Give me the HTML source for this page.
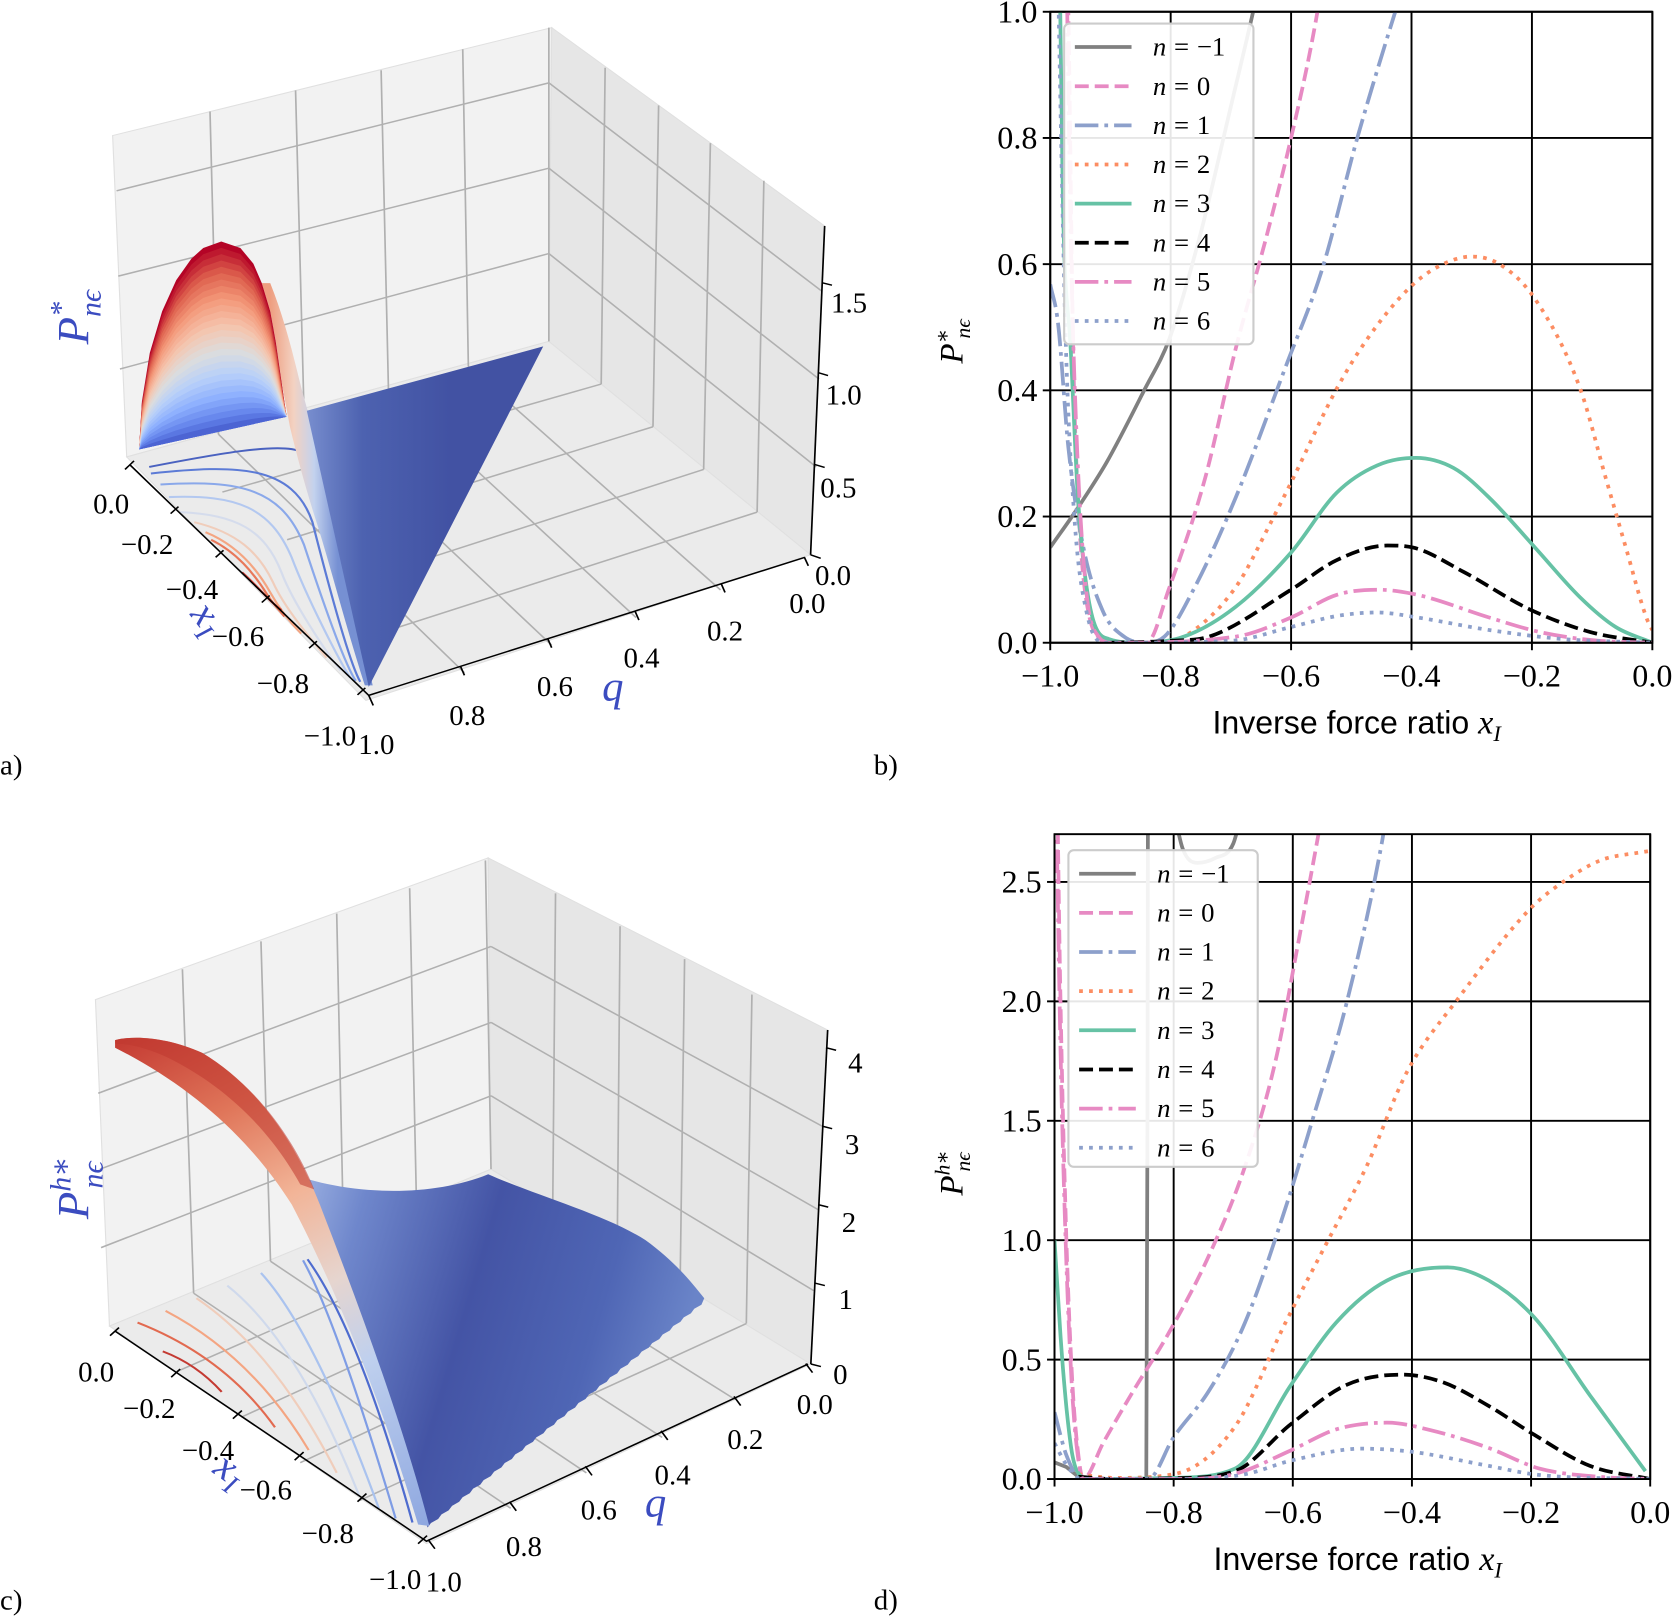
<!DOCTYPE html>
<html><head><meta charset="utf-8">
<style>
html,body{margin:0;padding:0;background:#fff;}
svg{display:block;}
text{font-family:"Liberation Serif","DejaVu Serif",serif;fill:#000;}
.tk{font-size:27px;}
</style></head>
<body>
<svg id="fig" width="1677" height="1617" viewBox="0 0 1568 1512" xmlns="http://www.w3.org/2000/svg">
<defs>
<clipPath id="clipB"><rect x="982" y="11" width="563" height="590"/></clipPath>
<clipPath id="clipD"><rect x="986" y="780" width="557" height="603"/></clipPath>
<linearGradient id="triA" x1="540" y1="900" x2="800" y2="900" gradientUnits="userSpaceOnUse">
<stop offset="0" stop-color="#7a90d0"/><stop offset="0.4" stop-color="#4d62b0"/><stop offset="1" stop-color="#4252a3"/></linearGradient>
<linearGradient id="sweepA" x1="480" y1="900" x2="600" y2="900" gradientUnits="userSpaceOnUse">
<stop offset="0" stop-color="#ee9e80"/><stop offset="0.35" stop-color="#f3d2c2"/><stop offset="0.65" stop-color="#c3d2ee"/><stop offset="1" stop-color="#7690d3"/></linearGradient>
<linearGradient id="ridgeC" x1="205" y1="435" x2="760" y2="1390" gradientUnits="userSpaceOnUse">
<stop offset="0" stop-color="#c43a32"/><stop offset="0.2" stop-color="#e0765a"/><stop offset="0.38" stop-color="#f2b497"/><stop offset="0.55" stop-color="#e6d5cf"/><stop offset="0.7" stop-color="#bfd0ee"/><stop offset="1" stop-color="#8fa8e0"/></linearGradient>
<linearGradient id="blueC" x1="500" y1="700" x2="1250" y2="900" gradientUnits="userSpaceOnUse">
<stop offset="0" stop-color="#a9bde8"/><stop offset="0.2" stop-color="#6f87cc"/><stop offset="0.5" stop-color="#4454a5"/><stop offset="0.8" stop-color="#4f66b5"/><stop offset="1" stop-color="#6a84c8"/></linearGradient>
</defs>

<!-- ========== PANEL A (3D) ========== -->
<g id="panelA">
<g transform="scale(0.52632,0.46948)">
<polygon points="200,270 980,55 975,680 225,910" fill="#f2f2f2" stroke="#e0e0e0" stroke-width="2"/>
<polygon points="980,55 1465,450 1440,1105 975,680" fill="#e6e6e6" stroke="#e0e0e0" stroke-width="2"/>
<polygon points="225,910 975,680 1440,1105 650,1395" fill="#ebebeb" stroke="#e0e0e0" stroke-width="2"/>
<g stroke="#b0b0b0" stroke-width="3" fill="none">
<path d="M373,222 L388,865 M525,180 L540,820 M677,140 L690,775 M822,98 L832,730 M975,55 L975,680"/>
<path d="M213,735 L975,505 M210,550 L975,335 M207,380 L975,165"/>
<path d="M975,505 L1450,930 M975,335 L1455,755 M975,165 L1460,580"/>
<path d="M1075,135 L1068,765 M1170,210 L1160,850 M1262,285 L1250,935 M1357,360 L1345,1020"/>
<path d="M388,865 L825,1340 M540,820 L980,1285 M690,775 L1130,1230 M832,730 L1280,1175"/>
<path d="M1068,765 L395,980 M1160,850 L510,1075 M1250,935 L600,1170 M1345,1020 L650,1270"/>
</g>
<g fill="none" stroke-width="4">
<path d="M265,930 C380,905 500,880 535,900" stroke="#4a62c0"/>
<path d="M268,943 C420,925 520,925 555,1040 C580,1150 620,1320 640,1358" stroke="#5c7bd6"/>
<path d="M285,965 C430,955 500,975 540,1085 C565,1170 610,1320 632,1356" stroke="#8aa8ea"/>
<path d="M300,990 C420,985 480,1010 518,1110 C545,1190 600,1310 622,1350" stroke="#b3c8f0"/>
<path d="M320,1020 C420,1025 470,1055 500,1140 C520,1200 580,1300 605,1335" stroke="#d5dcec"/>
<path d="M345,1040 C420,1060 460,1100 485,1160 C505,1210 550,1270 580,1310" stroke="#f0cdbb"/>
<path d="M365,1060 C420,1085 455,1130 480,1180 C500,1220 520,1245 535,1262" stroke="#f4a582"/>
<path d="M375,1075 C420,1100 450,1140 475,1185 C490,1210 500,1220 505,1228" stroke="#e8785a"/>
<path d="M430,1140 C460,1170 480,1200 500,1215" stroke="#cf3f35"/>
</g>
<path d="M465,564 L480,620 L490,682 L500,760 L515,850 C530,920 545,980 565,1050 C590,1140 615,1250 648,1365 L662,1365 C640,1250 615,1120 590,1000 C570,900 545,820 528,740 C515,680 500,620 480,564 Z" fill="url(#sweepA)"/>
<g id="fanA"></g>
<polygon points="545,818 965,690 655,1368" fill="url(#triA)"/>
<g stroke="#000" stroke-width="3" fill="none">
<path d="M230,925 L655,1385 L1430,1110"/>
<path d="M1465,450 L1440,1105"/>
<path d="M222,935 L238,918 M303,1023 L317,1009 M383,1110 L397,1096 M465,1200 L479,1186 M549,1291 L563,1277 M635,1384 L649,1370"/>
<path d="M663,1405 L655,1385 M825,1345 L818,1327 M980,1290 L973,1272 M1135,1235 L1128,1217 M1288,1180 L1281,1162 M1436,1127 L1429,1110"/>
<path d="M1440,1105 L1458,1112 M1447,925 L1465,931 M1453,742 L1471,748 M1460,563 L1478,568"/>
</g>
</g>
<g class="tk">
<text x="87" y="480">0.0</text><text x="113" y="518">−0.2</text><text x="155" y="560">−0.4</text><text x="198" y="604">−0.6</text><text x="240" y="648">−0.8</text><text x="284" y="697">−1.0</text>
</g>
<g class="tk">
<text x="335" y="705">1.0</text><text x="420" y="678">0.8</text><text x="502" y="651">0.6</text><text x="583" y="624">0.4</text><text x="661" y="599">0.2</text><text x="738" y="573">0.0</text>
</g>
<g class="tk">
<text x="762" y="547">0.0</text><text x="767" y="465">0.5</text><text x="772" y="378">1.0</text><text x="777" y="292">1.5</text>
</g>
<text x="172" y="585" font-size="38" font-style="italic" style="fill:#3b4cc0" transform="rotate(52 185 585)">x<tspan font-size="26" dy="8">I</tspan></text>
<text x="563" y="655" font-size="40" font-style="italic" style="fill:#3b4cc0">q</text>
<text transform="translate(82,322) rotate(-90)" font-size="42" font-style="italic" style="fill:#3b4cc0">P<tspan font-size="28" dy="-16">*</tspan><tspan font-size="28" dx="-14" dy="28">nϵ</tspan></text>
<text x="0" y="724" font-size="27">a)</text>
</g>

<!-- ========== PANEL C (3D) ========== -->
<g id="panelC">
<g transform="translate(0,766.7) scale(0.52466,0.47326)">
<polygon points="170,355 870,75 875,690 195,1000" fill="#f2f2f2" stroke="#e0e0e0" stroke-width="2"/>
<polygon points="870,75 1475,415 1445,1075 875,690" fill="#e6e6e6" stroke="#e0e0e0" stroke-width="2"/>
<polygon points="195,1000 875,690 1445,1075 760,1430" fill="#ebebeb" stroke="#e0e0e0" stroke-width="2"/>
<g stroke="#b0b0b0" stroke-width="3" fill="none">
<path d="M325,295 L345,935 M465,240 L482,872 M600,185 L612,812 M730,135 L742,750 M865,80 L875,690"/>
<path d="M180,845 L875,545 M178,690 L875,400 M175,540 L875,250"/>
<path d="M875,545 L1450,930 M875,400 L1458,770 M875,250 L1465,605"/>
<path d="M990,145 L985,765 M1105,210 L1100,840 M1220,275 L1212,920 M1340,345 L1330,995"/>
<path d="M345,935 L910,1360 M482,872 L1045,1290 M612,812 L1180,1220 M742,750 L1310,1145"/>
<path d="M985,765 L315,1090 M1100,840 L430,1180 M1212,920 L535,1270 M1330,995 L640,1345"/>
</g>
<g fill="none" stroke-width="4">
<path d="M245,993 Q400,1060 490,1200" stroke="#e26a50"/>
<path d="M290,1050 Q350,1075 395,1130" stroke="#c43a32"/>
<path d="M295,970 Q450,1060 550,1245" stroke="#f4a582"/>
<path d="M350,945 Q490,1050 600,1290" stroke="#f0cdbb"/>
<path d="M405,920 Q530,1030 640,1335" stroke="#cfd9ec"/>
<path d="M465,895 Q560,1010 675,1360" stroke="#aac3ef"/>
<path d="M540,870 Q600,990 705,1380" stroke="#7f9de5"/>
<path d="M548,868 Q640,1010 735,1388" stroke="#4e6ccf"/>
</g>
<path id="blueSurfC" d="" fill="url(#blueC)"/>
<path d="M205,435 C240,425 300,430 360,460 C450,520 520,620 570,760 C640,960 720,1200 765,1395 L745,1392 C680,1150 600,930 520,760 C440,620 330,520 205,450 Z" fill="url(#ridgeC)"/>
<path d="M205,435 C240,425 300,430 360,460 C450,520 520,620 560,730 L535,720 C480,610 400,525 300,470 C260,450 230,442 205,442 Z" fill="#c0392f" opacity="0.55"/>
<g stroke="#000" stroke-width="3" fill="none">
<path d="M205,1010 L760,1425 L1440,1075"/>
<path d="M1475,415 L1445,1075"/>
<path d="M196,1019 L212,1003 M305,1101 L321,1085 M415,1183 L431,1167 M525,1265 L541,1249 M637,1347 L653,1331 M745,1430 L761,1414"/>
<path d="M775,1440 L763,1422 M920,1365 L908,1347 M1055,1295 L1043,1277 M1190,1225 L1178,1207 M1320,1157 L1308,1139 M1448,1092 L1436,1074"/>
<path d="M1445,1075 L1463,1080 M1452,915 L1470,920 M1458,760 L1476,765 M1465,605 L1483,610 M1472,450 L1490,455"/>
</g>
</g>
<g class="tk">
<text x="73" y="1292">0.0</text><text x="115" y="1326">−0.2</text><text x="170" y="1365">−0.4</text><text x="224" y="1402">−0.6</text><text x="282" y="1443">−0.8</text><text x="345" y="1486">−1.0</text>
</g>
<g class="tk">
<text x="398" y="1488">1.0</text><text x="473" y="1455">0.8</text><text x="543" y="1421">0.6</text><text x="612" y="1388">0.4</text><text x="680" y="1355">0.2</text><text x="745" y="1322">0.0</text>
</g>
<g class="tk">
<text x="779" y="1294">0</text><text x="784" y="1224">1</text><text x="787" y="1152">2</text><text x="790" y="1079">3</text><text x="793" y="1003">4</text>
</g>
<text x="195" y="1385" font-size="38" font-style="italic" style="fill:#3b4cc0" transform="rotate(35 210 1385)">x<tspan font-size="26" dy="8">I</tspan></text>
<text x="603" y="1418" font-size="40" font-style="italic" style="fill:#3b4cc0">q</text>
<text transform="translate(82,1140) rotate(-90)" font-size="42" font-style="italic" style="fill:#3b4cc0">P<tspan font-size="28" dy="-16">h∗</tspan><tspan font-size="28" dx="-30" dy="30">nϵ</tspan></text>
<text x="0" y="1505" font-size="27">c)</text>
</g>

<g id="panelB"></g>
<g id="panelD"></g>
<text x="817" y="724" font-size="27">b)</text>
<text x="817" y="1505" font-size="27">d)</text>
</svg>

<script>
// ---------- Panel b data ----------
const bXTicks = [-1.0, -0.8, -0.6, -0.4, -0.2, 0.0];
const bXTickLabels = ["−1.0", "−0.8", "−0.6", "−0.4", "−0.2", "0.0"];
const bYTicks = [0.0, 0.2, 0.4, 0.6, 0.8, 1.0];
const bYTickLabels = ["0.0", "0.2", "0.4", "0.6", "0.8", "1.0"];
const bNm1x = [-1, -0.954, -0.907, -0.844, -0.802, -0.75, -0.7, -0.663, -0.64];
const bNm1y = [0.151, 0.214, 0.285, 0.40, 0.482, 0.65, 0.85, 1.0, 1.1];
const bN0x = [-0.98, -0.97, -0.962, -0.954, -0.937, -0.91, -0.88, -0.84, -0.802, -0.743, -0.692, -0.642, -0.6, -0.558, -0.54];
const bN0y = [1.3, 1.0, 0.466, 0.23, 0.05, 0.005, 0, 0, 0.088, 0.26, 0.466, 0.64, 0.8, 0.99, 1.1];
const bN1x = [-1, -0.987, -0.97, -0.945, -0.912, -0.878, -0.844, -0.81, -0.76, -0.692, -0.608, -0.549, -0.49, -0.427, -0.41];
const bN1y = [0.568, 0.506, 0.31, 0.151, 0.049, 0.01, 0, 0.01, 0.088, 0.23, 0.44, 0.59, 0.8, 1.0, 1.05];
const bN2x = [-0.9, -0.82, -0.777, -0.692, -0.634, -0.6, -0.524, -0.473, -0.406, -0.356, -0.3, -0.254, -0.195, -0.12, -0.077, -0.044, -0.01, 0];
const bN2y = [0, 0, 0.01, 0.088, 0.19, 0.254, 0.403, 0.482, 0.56, 0.596, 0.612, 0.6, 0.545, 0.403, 0.26, 0.151, 0.04, 0.02];
const bN3x = [-0.986, -0.979, -0.966, -0.954, -0.937, -0.903, -0.85, -0.777, -0.692, -0.6, -0.524, -0.457, -0.393, -0.33, -0.271, -0.195, -0.12, -0.061, 0];
const bN3y = [1.2, 0.7, 0.466, 0.23, 0.072, 0.006, 0, 0.01, 0.057, 0.143, 0.238, 0.281, 0.293, 0.277, 0.23, 0.151, 0.072, 0.025, 0];
const bN4x = [-0.9, -0.8, -0.735, -0.6, -0.524, -0.44, -0.398, -0.313, -0.204, -0.103, 0];
const bN4y = [0, 0.003, 0.01, 0.084, 0.131, 0.154, 0.151, 0.112, 0.053, 0.017, 0];
const bN5x = [-0.975, -0.965, -0.955, -0.94, -0.92, -0.9, -0.69, -0.6, -0.524, -0.457, -0.39, -0.271, -0.187, -0.1, 0];
const bN5y = [1.2, 0.6, 0.3, 0.08, 0.01, 0, 0.01, 0.04, 0.076, 0.084, 0.076, 0.04, 0.017, 0.004, 0];
const bN6x = [-0.99, -0.975, -0.96, -0.94, -0.91, -0.7, -0.6, -0.52, -0.457, -0.39, -0.27, -0.15, 0];
const bN6y = [1.2, 0.5, 0.2, 0.05, 0, 0.003, 0.025, 0.043, 0.048, 0.04, 0.02, 0.006, 0];

// ---------- Panel d data ----------
const dXTicks = [-1.0, -0.8, -0.6, -0.4, -0.2, 0.0];
const dXTickLabels = ["−1.0", "−0.8", "−0.6", "−0.4", "−0.2", "0.0"];
const dYTicks = [0.0, 0.5, 1.0, 1.5, 2.0, 2.5];
const dYTickLabels = ["0.0", "0.5", "1.0", "1.5", "2.0", "2.5"];
const dNm1x = [-1, -0.98, -0.96, -0.95, -0.846, -0.844, -0.843];
const dNm1y = [0.07, 0.05, 0.01, 0, 0, 1.5, 3.0];
const dNm1bx = [-0.80, -0.785, -0.76, -0.73, -0.70, -0.685];
const dNm1by = [2.8, 2.64, 2.58, 2.6, 2.66, 2.8];
const dN0x = [-0.995, -0.99, -0.98, -0.97, -0.96, -0.952, -0.918, -0.867, -0.808, -0.74, -0.68, -0.629, -0.595, -0.557, -0.55];
const dN0y = [2.8, 2.0, 1.0, 0.4, 0.1, 0, 0.153, 0.372, 0.612, 0.94, 1.31, 1.75, 2.19, 2.7, 2.8];
const dN1x = [-1, -0.98, -0.955, -0.9, -0.843, -0.8, -0.74, -0.68, -0.612, -0.569, -0.51, -0.45, -0.445];
const dN1y = [0.28, 0.1, 0, 0, 0, 0.175, 0.372, 0.656, 1.137, 1.487, 1.99, 2.67, 2.75];
const dN2x = [-0.96, -0.9, -0.8, -0.697, -0.612, -0.544, -0.476, -0.408, -0.323, -0.203, -0.152, -0.084, -0.016, 0];
const dN2y = [0.02, 0.005, 0.02, 0.22, 0.656, 0.984, 1.31, 1.706, 2.01, 2.384, 2.49, 2.59, 2.624, 2.63];
const dN3x = [-1, -0.99, -0.98, -0.97, -0.955, -0.94, -0.8, -0.697, -0.603, -0.527, -0.442, -0.34, -0.271, -0.195, -0.101, -0.008];
const dN3y = [1.0, 0.6, 0.3, 0.1, 0.01, 0, 0.005, 0.044, 0.394, 0.656, 0.831, 0.886, 0.831, 0.678, 0.35, 0.033];
const dN4x = [-0.96, -0.9, -0.8, -0.697, -0.603, -0.51, -0.416, -0.348, -0.271, -0.195, -0.101, 0];
const dN4y = [0.01, 0, 0.003, 0.033, 0.23, 0.394, 0.437, 0.405, 0.306, 0.186, 0.055, 0];
const dN5x = [-0.997, -0.99, -0.98, -0.97, -0.96, -0.952, -0.8, -0.7, -0.603, -0.527, -0.442, -0.357, -0.271, -0.186, -0.084, 0];
const dN5y = [2.8, 1.8, 0.9, 0.35, 0.08, 0, 0, 0.02, 0.12, 0.208, 0.236, 0.197, 0.13, 0.044, 0.009, 0];
const dN6x = [-1, -0.98, -0.955, -0.8, -0.68, -0.603, -0.484, -0.4, -0.271, -0.186, 0];
const dN6y = [0.15, 0.06, 0, 0, 0.02, 0.077, 0.127, 0.114, 0.055, 0.017, 0];

const legendLabels = ["n = −1", "n = 0", "n = 1", "n = 2", "n = 3", "n = 4", "n = 5", "n = 6"];

const NS = "http://www.w3.org/2000/svg";
function mk(tag, attrs, parent) {
  const e = document.createElementNS(NS, tag);
  for (const k in attrs) e.setAttribute(k, attrs[k]);
  if (parent) parent.appendChild(e);
  return e;
}
const STY = {
  gray:  {c:"#808080", d:""},
  pdash: {c:"#e78ac3", d:"13,5.6"},
  bdd:   {c:"#8da0cb", d:"22,5.6,3.5,5.6"},
  odot:  {c:"#fc8d62", d:"3.5,5.8"},
  green: {c:"#66c2a5", d:""},
  kdash: {c:"#000000", d:"13,5.6"},
  pdd:   {c:"#e78ac3", d:"22,5.6,3.5,5.6"},
  bdot:  {c:"#8da0cb", d:"3.5,5.8"}
};
const legendStyles = [STY.gray, STY.pdash, STY.bdd, STY.odot, STY.green, STY.kdash, STY.pdd, STY.bdot];

function smoothPath(P) {
  const n = P.length;
  if (n < 3) return "M" + P.map(p => p[0].toFixed(1) + "," + p[1].toFixed(1)).join(" L");
  const dx = [], m = [], s = [];
  for (let i = 0; i < n - 1; i++) { dx[i] = P[i+1][0] - P[i][0]; s[i] = dx[i] > 1e-6 ? (P[i+1][1] - P[i][1]) / dx[i] : 0; }
  m[0] = s[0]; m[n-1] = s[n-2];
  for (let i = 1; i < n - 1; i++) m[i] = (s[i-1] * s[i] <= 0) ? 0 : (s[i-1] + s[i]) / 2;
  for (let i = 0; i < n - 1; i++) {
    if (s[i] === 0) { m[i] = 0; m[i+1] = 0; continue; }
    const a = m[i] / s[i], b = m[i+1] / s[i], h = a*a + b*b;
    if (h > 9) { const t = 3 / Math.sqrt(h); m[i] = t*a*s[i]; m[i+1] = t*b*s[i]; }
  }
  let d = "M" + P[0][0].toFixed(1) + "," + P[0][1].toFixed(1);
  for (let i = 0; i < n - 1; i++) {
    const h = dx[i] / 3;
    d += " C" + (P[i][0]+h).toFixed(1) + "," + (P[i][1]+m[i]*h).toFixed(1) + " " +
         (P[i+1][0]-h).toFixed(1) + "," + (P[i+1][1]-m[i+1]*h).toFixed(1) + " " +
         P[i+1][0].toFixed(1) + "," + P[i+1][1].toFixed(1);
  }
  return d;
}

function drawPanel(cfg) {
  const g = document.getElementById(cfg.id);
  const X = v => cfg.x0 + (v - cfg.xmin) / (cfg.xmax - cfg.xmin) * (cfg.x1 - cfg.x0);
  const Y = v => cfg.yb - (v - cfg.ymin) / (cfg.ymax - cfg.ymin) * (cfg.yb - cfg.yt);
  const grid = mk("g", {stroke:"#000", "stroke-width":"1.8"}, g);
  
  
  cfg.xt.forEach(v => mk("line", {x1:X(v), x2:X(v), y1:cfg.yt, y2:cfg.yb}, grid));
  cfg.yt_.forEach(v => mk("line", {x1:cfg.x0, x2:cfg.x1, y1:Y(v), y2:Y(v)}, grid));
  const sg = mk("g", {"clip-path":"url(#"+cfg.clip+")", fill:"none", "stroke-width":"3.5"}, g);
  
  
  cfg.series.forEach(s => {
    const P = s.x.map((v,i) => [X(v), Y(s.y[i])]);
    const d = s.raw ? "M" + P.map(p => p[0].toFixed(1) + "," + p[1].toFixed(1)).join(" L") : smoothPath(P);
    const pl = mk("path", {d:d, stroke:s.st.c}, sg);
    if (s.st.d) pl.setAttribute("stroke-dasharray", s.st.d);
    
    
  });
  const fr = mk("rect", {x:cfg.x0, y:cfg.yt, width:cfg.x1-cfg.x0, height:cfg.yb-cfg.yt, fill:"none", stroke:"#000", "stroke-width":"1.8"}, g);
  
  
  cfg.xt.forEach((v,i) => {
    mk("line", {x1:X(v), x2:X(v), y1:cfg.yb, y2:cfg.yb+7, stroke:"#000", "stroke-width":"1.8"}, g);
    const t = mk("text", {x:X(v), y:cfg.yb+41, "text-anchor":"middle", "font-size":"30"}, g);
    t.textContent = cfg.xl[i];
    
    
  });
  cfg.yt_.forEach((v,i) => {
    mk("line", {x1:cfg.x0-7, x2:cfg.x0, y1:Y(v), y2:Y(v), stroke:"#000", "stroke-width":"1.8"}, g);
    const t = mk("text", {x:cfg.x0-12, y:Y(v)+10, "text-anchor":"end", "font-size":"30"}, g);
    t.textContent = cfg.yl[i];
    
    
  });
  const xt = mk("text", {x:(cfg.x0+cfg.x1)/2+5, y:cfg.yb+85, "text-anchor":"middle", "font-size":"30"}, g);
  
  
  xt.innerHTML = '<tspan font-family="Liberation Sans, DejaVu Sans, sans-serif">Inverse force ratio </tspan><tspan font-style="italic" font-size="32">x</tspan><tspan font-style="italic" font-size="21" dy="7">I</tspan>';
  const yt = mk("text", {transform:"translate("+cfg.ylx+","+cfg.yly+") rotate(-90)", "font-size":"31", "font-style":"italic"}, g);
  
  
  yt.innerHTML = cfg.ylab;
  const lg = mk("g", {}, g);
  
  
  const lb = mk("rect", {x:cfg.lx, y:cfg.ly, width:177, height:cfg.lh, rx:5, fill:"#fff", "fill-opacity":"0.9", stroke:"#ccc", "stroke-width":"2"}, lg);
  
  
  legendLabels.forEach((lab,i) => {
    const yy = cfg.ly + 22 + i*cfg.lstep;
    const ln = mk("line", {x1:cfg.lx+10, x2:cfg.lx+63, y1:yy, y2:yy, stroke:legendStyles[i].c, "stroke-width":"3.5"}, lg);
    if (legendStyles[i].d) ln.setAttribute("stroke-dasharray", legendStyles[i].d);
    
    
    const t = mk("text", {x:cfg.lx+83, y:yy+8, "font-size":"25", "word-spacing":"1"}, lg);
    t.innerHTML = '<tspan font-style="italic">n</tspan>' + lab.slice(1);
    
    
  });
}

drawPanel({id:"panelB", clip:"clipB", x0:982, x1:1545, yt:11, yb:601, xmin:-1, xmax:0, ymin:0, ymax:1,
  xt:bXTicks, xl:bXTickLabels, yt_:bYTicks, yl:bYTickLabels,
  ylx:900, yly:340, ylab:'P<tspan font-size="20" dy="-12">∗</tspan><tspan font-size="20" dx="-9" dy="19">nϵ</tspan>',
  lx:995, ly:22, lh:300, lstep:36.6,
  series:[
    {x:bNm1x, y:bNm1y, st:STY.gray, name:"line-n-minus1"},
    {x:bN0x, y:bN0y, st:STY.pdash, name:"line-n0"},
    {x:bN1x, y:bN1y, st:STY.bdd, name:"line-n1"},
    {x:bN2x, y:bN2y, st:STY.odot, name:"line-n2"},
    {x:bN3x, y:bN3y, st:STY.green, name:"line-n3"},
    {x:bN4x, y:bN4y, st:STY.kdash, name:"line-n4"},
    {x:bN5x, y:bN5y, st:STY.pdd, name:"line-n5"},
    {x:bN6x, y:bN6y, st:STY.bdot, name:"line-n6"}
  ]});

drawPanel({id:"panelD", clip:"clipD", x0:986, x1:1543, yt:780, yb:1383, xmin:-1, xmax:0, ymin:0, ymax:2.7,
  xt:dXTicks, xl:dXTickLabels, yt_:dYTicks, yl:dYTickLabels,
  ylx:900, yly:1118, ylab:'P<tspan font-size="20" dy="-12">h∗</tspan><tspan font-size="20" dx="-20" dy="19">nϵ</tspan>',
  lx:999, ly:795, lh:296, lstep:36.6,
  series:[
    {x:dNm1x, y:dNm1y, st:STY.gray, name:"line-n-minus1", raw:true},
    {x:dNm1bx, y:dNm1by, st:STY.gray, name:"line-n-minus1-branch"},
    {x:dN0x, y:dN0y, st:STY.pdash, name:"line-n0"},
    {x:dN1x, y:dN1y, st:STY.bdd, name:"line-n1"},
    {x:dN2x, y:dN2y, st:STY.odot, name:"line-n2"},
    {x:dN3x, y:dN3y, st:STY.green, name:"line-n3"},
    {x:dN4x, y:dN4y, st:STY.kdash, name:"line-n4"},
    {x:dN5x, y:dN5y, st:STY.pdd, name:"line-n5"},
    {x:dN6x, y:dN6y, st:STY.bdot, name:"line-n6"}
  ]});

// ---------- Panel a fan (nested arches, coolwarm) ----------
function coolwarm(t) {
  const stops = [[59,76,192],[98,130,234],[141,176,254],[184,208,249],[221,221,221],[245,196,173],[244,154,123],[222,96,77],[180,4,38]];
  const p = Math.max(0, Math.min(1, t)) * (stops.length - 1);
  const i = Math.min(stops.length - 2, Math.floor(p)), f = p - i;
  const c = stops[i].map((v,k) => Math.round(v + (stops[i+1][k] - v) * f));
  return "rgb(" + c.join(",") + ")";
}
const fanOuter = [[247,895],[252,800],[266,703],[288,620],[313,558],[340,515],[361,494],[393,481],[427,494],[450,525],[465,564],[480,620],[490,682],[500,760],[509,830]];
const fanG = document.getElementById("fanA");
const baseY = x => 895 - (x - 247) * 0.248;
for (let k = 0; k < 30; k++) {
  const s = 1 - k / 30;
  const pts = fanOuter.map(p => p[0] + "," + (baseY(p[0]) + s * (p[1] - baseY(p[0]))).toFixed(1));
  const pg = mk("polygon", {points: pts.join(" "), fill: coolwarm(Math.pow(s, 0.85))}, fanG);
  
  
}

// ---------- Panel c blue surface with jagged edge ----------
(function(){
  let d = "M500,690 C600,740 760,750 870,700 C950,740 1080,780 1150,830 C1200,870 1230,910 1255,945 L1250,958";
  const a = [1250,958], b = [762,1398];
  const n = 26;
  for (let i = 1; i <= n; i++) {
    const t = i / n;
    const x = a[0] + (b[0] - a[0]) * t, y = a[1] + (b[1] - a[1]) * t;
    d += " L" + (x + 6).toFixed(1) + "," + (y - 9).toFixed(1) + " L" + x.toFixed(1) + "," + y.toFixed(1);
  }
  d += " C690,1150 620,920 540,780 C525,750 512,720 500,690 Z";
  document.getElementById("blueSurfC").setAttribute("d", d);
})();
</script>
</body></html>
